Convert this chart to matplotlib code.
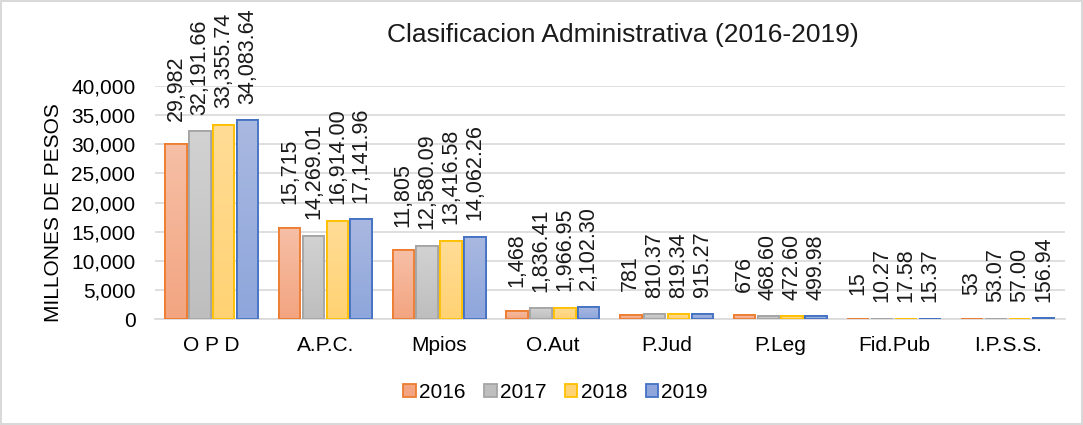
import matplotlib.pyplot as plt
import matplotlib
import numpy as np
from matplotlib.ticker import FuncFormatter
from matplotlib.colors import LinearSegmentedColormap

matplotlib.rc("font", family=["Liberation Sans", "DejaVu Sans"], size=15)

categories = ["O P D", "A.P.C.", "Mpios", "O.Aut", "P.Jud", "P.Leg", "Fid.Pub", "I.P.S.S."]
years = ["2016", "2017", "2018", "2019"]

v2016 = [29982, 15715, 11805, 1468, 781, 676, 15, 53]
v2017 = [32191.66, 14269.01, 12580.09, 1836.41, 810.37, 468.60, 10.27, 53.07]
v2018 = [33355.74, 16914.00, 13416.58, 1966.95, 819.34, 472.60, 17.58, 57.00]
v2019 = [34083.64, 17141.96, 14062.26, 2102.30, 915.27, 499.98, 15.37, 156.94]

labels2016 = ["29,982", "15,715", "11,805", "1,468", "781", "676", "15", "53"]

series = [v2016, v2017, v2018, v2019]
edge_colors = ["#ED7D31", "#A5A5A5", "#FFC000", "#4472C4"]
top_colors = ["#F6BFA6", "#D2D2D2", "#FFDC96", "#A9B8E0"]
bottom_colors = ["#F3A581", "#BEBEBE", "#FFD273", "#8EA6DC"]

fig = plt.figure(figsize=(10.83, 4.25), dpi=100)
fig.patch.set_edgecolor("#D9D9D9")
fig.patch.set_linewidth(1.5)
ax = fig.add_axes([0.143, 0.249, 0.840, 0.549])

x = np.arange(len(categories))
width = 0.19
step = 0.21

for i, vals in enumerate(series):
    pos = x + (i - 1.5) * step
    bars = ax.bar(pos, vals, width, color=bottom_colors[i], edgecolor=edge_colors[i],
                  linewidth=1.3, label=years[i], zorder=3)
    cmap = LinearSegmentedColormap.from_list("g%d" % i, [bottom_colors[i], top_colors[i]])
    for b in bars:
        x0, y0 = b.get_x(), b.get_y()
        w, h = b.get_width(), b.get_height()
        grad = np.linspace(0, 1, 64).reshape(-1, 1)
        im = ax.imshow(grad, cmap=cmap, extent=[x0, x0 + w, y0, y0 + h],
                       origin="lower", aspect="auto", zorder=3.5)
        im.set_clip_path(b)
        ax.add_patch(plt.Rectangle((x0, y0), w, h, fill=False, edgecolor=edge_colors[i],
                                   linewidth=1.3, zorder=4))
    # integer labels of 2016 sit a bit higher, as in the original
    gap = 17 if i == 0 else 12
    for j, v in enumerate(vals):
        txt = labels2016[j] if i == 0 else "{:,.2f}".format(v)
        ax.annotate(txt, (pos[j], v), xytext=(0, gap), textcoords="offset points",
                    rotation=90, ha="center", va="bottom", fontsize=15.5,
                    color="#1a1a1a", annotation_clip=False, zorder=5)

ax.set_xlim(-0.5, len(categories) - 0.5)
ax.set_ylim(0, 40000)
ax.set_yticks(np.arange(0, 40001, 5000))
ax.yaxis.set_major_formatter(FuncFormatter(lambda v, p: "{:,.0f}".format(v)))
ax.set_xticks(x)
ax.set_xticklabels(categories, fontsize=15)
ax.tick_params(axis="y", labelsize=15, length=0, pad=14)
ax.tick_params(axis="x", length=0, pad=12)
ax.grid(axis="y", color="#D9D9D9", linewidth=1.2, zorder=0)
for s in ["top", "right", "left"]:
    ax.spines[s].set_visible(False)
ax.spines["bottom"].set_color("#D9D9D9")
ax.spines["bottom"].set_linewidth(1.2)
ax.set_ylabel("MILLONES DE PESOS", fontsize=15)
ax.yaxis.set_label_coords(-0.101, 0.455)
ax.set_axisbelow(True)

fig.text(0.575, 0.918, "Clasificacion Administrativa (2016-2019)", ha="center", va="center",
         fontsize=19, color="#1a1a1a")

fig.legend(*ax.get_legend_handles_labels(), loc="center", bbox_to_anchor=(0.513, 0.076),
           ncol=4, frameon=False, fontsize=15, handlelength=0.6, handleheight=0.6,
           handletextpad=0.15, columnspacing=0.9)

fig.savefig("out.png", dpi=100)
